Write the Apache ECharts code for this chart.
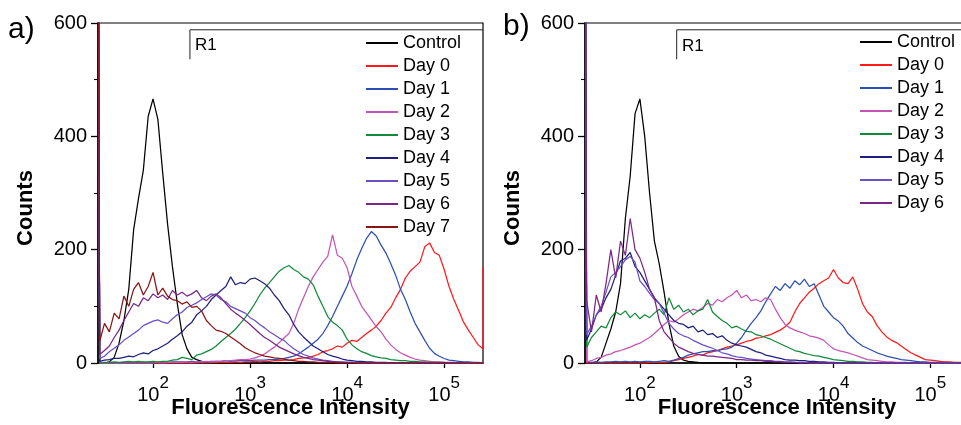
<!DOCTYPE html>
<html><head><meta charset="utf-8">
<script src="https://cdn.jsdelivr.net/npm/echarts@6/dist/echarts.min.js"></script>
<style>html,body{margin:0;padding:0;background:#fff}#c{width:961px;height:425px}</style>
</head><body><div id="c"></div>
<script>
// ---------- data (log10 of fluorescence channel -> counts) ----------
const X_MIN = 1.433;   // left edge of the log axis (~27)
const X_MAX = 5.40;    // right edge of the log axis (~2.5e5)
const channelExp = [
1.45,1.50,1.55,1.60,1.65,1.70,1.75,1.80,1.85,1.90,
1.95,2.00,2.05,2.10,2.15,2.20,2.25,2.30,2.35,2.40,
2.45,2.50,2.55,2.60,2.65,2.70,2.75,2.80,2.85,2.90,
2.95,3.00,3.05,3.10,3.15,3.20,3.25,3.30,3.35,3.40,
3.45,3.50,3.55,3.60,3.65,3.70,3.75,3.80,3.85,3.90,
3.95,4.00,4.05,4.10,4.15,4.20,4.25,4.30,4.35,4.40,
4.45,4.50,4.55,4.60,4.65,4.70,4.75,4.80,4.85,4.90,
4.95,5.00,5.05,5.10,5.15,5.20,5.25,5.30,5.35,5.40];
const xTickExp = [2, 3, 4, 5];
const yTicks = {min: 0, max: 600, step: 200};
const seriesNames = ['Control','Day 0','Day 1','Day 2','Day 3','Day 4','Day 5','Day 6','Day 7'];
const seriesColors = ['#000000','#ff1a1a','#2d4fb5','#c455b5','#138a3a','#1f1f80','#6b4fc6','#7a2888','#8b1414'];
const gateR1 = {startIntensity: 240, level: 588, tickBottom: 536};

// panel a
const aControl = [
0,0,2,10,35,75,130,235,290,340,
435,466,430,335,245,170,105,50,25,10,
6,3,2,1,1,0,0,0,0,0,
0,0,0,0,0,0,0,0,0,0,
0,0,0,0,0,0,0,0,0,0,
0,0,0,0,0,0,0,0,0,0,
0,0,0,0,0,0,0,0,0,0,
0,0,0,0,0,0,0,0,0,0];
const aDay0 = [
0,0,0,0,0,0,0,0,0,0,
0,0,0,0,0,0,0,0,0,0,
0,1,0,1,1,1,1,1,2,1,
2,2,3,2,3,3,4,4,5,5,
6,8,9,10,12,15,20,22,25,30,
28,35,40,38,45,52,58,65,75,88,
98,115,130,150,162,170,178,205,212,195,
190,165,135,112,92,72,58,45,32,25];
const aDay1 = [
0,0,0,0,0,0,1,0,1,1,
1,1,1,2,1,2,2,2,2,3,
2,3,2,3,3,3,4,3,4,4,
4,4,5,5,5,6,6,7,8,10,
12,16,22,28,35,42,52,66,82,100,
118,136,158,182,202,220,232,224,208,194,
175,155,130,112,90,70,55,40,26,17,
12,8,5,4,3,2,2,1,1,0];
const aDay2 = [
0,0,0,0,0,0,0,0,0,0,
0,0,1,0,1,1,1,1,2,1,
2,2,3,2,3,3,4,4,5,6,
6,7,9,12,16,22,28,36,44,52,
70,95,115,135,152,165,178,188,226,190,
185,168,135,118,100,88,76,64,55,42,
32,24,18,14,10,7,5,4,3,2,
2,1,1,1,0,0,0,0,0,0];
const aDay3 = [
0,1,1,2,1,2,3,2,3,2,
2,3,2,3,3,5,6,10,8,6,
14,16,20,24,30,38,45,52,60,70,
80,92,105,120,132,142,152,162,168,172,
165,160,152,148,138,118,100,82,72,66,
58,42,32,25,20,17,13,11,9,8,
6,5,4,4,3,3,2,2,1,1,
1,1,0,0,0,0,0,0,0,0];
const aDay4 = [
3,5,6,8,8,10,12,11,15,18,
16,22,25,30,35,42,48,55,65,72,
85,92,100,112,120,128,135,152,138,142,
140,148,150,145,140,132,120,110,96,85,
68,55,46,38,30,25,20,15,12,10,
7,5,4,3,3,2,2,1,1,1,
0,0,0,0,0,0,0,0,0,0,
0,0,0,0,0,0,0,0,0,0];
const aDay5 = [
8,12,20,26,32,40,46,52,58,66,
70,74,76,72,70,78,85,90,98,102,
106,112,117,122,120,112,108,100,96,92,
88,80,75,68,62,55,50,44,40,32,
25,20,15,12,9,7,5,4,3,2,
2,1,1,1,0,0,0,0,0,0,
0,0,0,0,0,0,0,0,0,0,
0,0,0,0,0,0,0,0,0,0];
const aDay6 = [
15,22,30,45,58,75,90,105,100,115,
110,122,115,120,112,128,120,125,118,122,
128,115,110,118,122,115,105,95,88,82,
75,68,60,52,45,40,34,28,24,20,
16,13,10,8,6,5,4,3,2,2,
1,1,1,0,0,0,0,0,0,0,
0,0,0,0,0,0,0,0,0,0,
0,0,0,0,0,0,0,0,0,0];
const aDay7 = [
38,70,55,88,78,118,100,130,142,120,
135,160,120,132,118,112,110,104,108,98,
100,92,75,66,58,56,52,46,40,34,
27,22,18,15,12,11,9,8,7,5,
4,3,3,2,2,1,1,1,1,0,
0,0,0,0,0,0,0,0,0,0,
0,0,0,0,0,0,0,0,0,0,
0,0,0,0,0,0,0,0,0,0];
const aFirstBin = [1000,1000,1000,1000,1000,1000,1000,1000,1000];
const aLastBin  = [0,170,0,0,0,0,0,0,0];

// panel b
const bControl = [
0,0,2,10,35,60,90,140,255,330,
440,466,400,300,215,175,125,70,30,12,
5,3,2,1,0,0,0,0,0,0,
0,0,0,0,0,0,0,0,0,0,
0,0,0,0,0,0,0,0,0,0,
0,0,0,0,0,0,0,0,0,0,
0,0,0,0,0,0,0,0,0,0,
0,0,0,0,0,0,0,0,0,0];
const bDay0 = [
0,0,0,0,0,0,0,0,0,0,
0,0,0,1,1,1,1,2,4,6,
8,10,12,15,14,18,20,22,25,28,
30,32,35,38,40,44,45,48,50,54,
58,64,72,90,105,115,125,132,140,145,
150,165,150,142,140,152,130,105,90,82,
66,55,46,40,36,30,24,18,14,10,
6,5,4,3,2,2,1,1,1,0];
const bDay1 = [
2,1,2,1,2,2,3,2,3,2,
3,2,3,3,2,3,4,3,5,8,
10,14,16,18,20,20,22,22,24,25,
28,35,45,58,70,80,92,108,122,135,
128,140,132,145,138,148,135,140,120,100,
90,80,74,65,52,44,36,30,26,22,
18,15,12,10,8,6,5,4,3,2,
2,1,1,1,0,0,0,0,0,0];
const bDay2 = [
2,4,8,10,14,16,20,22,25,28,
32,35,40,45,52,60,68,75,72,78,
85,90,95,92,98,105,102,112,108,115,
120,128,115,120,110,112,108,115,112,95,
80,68,62,58,55,52,48,46,44,40,
32,25,22,20,18,15,12,9,6,5,
4,3,2,2,1,1,1,0,0,0,
0,0,0,0,0,0,0,0,0,0];
const bDay3 = [
28,45,55,65,62,80,90,85,92,80,
88,78,85,80,88,95,85,115,95,102,
90,95,85,92,95,112,90,82,75,70,
62,65,60,56,55,50,48,45,42,38,
34,30,26,22,20,17,15,13,12,10,
8,6,5,4,3,3,2,2,1,1,
0,0,0,0,0,0,0,0,0,0,
0,0,0,0,0,0,0,0,0,0];
const bDay4 = [
40,60,85,95,115,130,155,180,185,195,
170,160,145,130,115,105,95,85,75,70,
68,62,65,55,58,50,52,45,48,40,
35,32,30,28,24,20,18,14,12,10,
8,6,5,5,4,4,3,3,2,2,
1,1,0,0,0,0,0,0,0,0,
0,0,0,0,0,0,0,0,0,0,
0,0,0,0,0,0,0,0,0,0];
const bDay5 = [
50,65,85,100,125,152,160,170,182,188,
178,145,135,123,112,105,88,70,60,52,
48,45,40,36,32,29,26,22,18,16,
13,11,10,8,7,6,5,4,4,3,
3,2,2,1,1,1,0,0,0,0,
0,0,0,0,0,0,0,0,0,0,
0,0,0,0,0,0,0,0,0,0,
0,0,0,0,0,0,0,0,0,0];
const bDay6 = [
110,55,120,90,140,200,150,215,190,255,
200,185,160,130,115,75,55,45,35,28,
24,20,17,15,14,12,12,11,10,9,
8,6,6,5,5,4,4,3,3,2,
2,1,1,1,0,0,0,0,0,0,
0,0,0,0,0,0,0,0,0,0,
0,0,0,0,0,0,0,0,0,0,
0,0,0,0,0,0,0,0,0,0];
const bFirstBin = [1000,1000,1000,1000,1000,1000,1000,1000];
const bLastBin  = [0,0,0,0,0,0,0,0];

const panelA = [aControl,aDay0,aDay1,aDay2,aDay3,aDay4,aDay5,aDay6,aDay7];
const panelB = [bControl,bDay0,bDay1,bDay2,bDay3,bDay4,bDay5,bDay6];

// ---------- chart ----------
const FONT = '"Liberation Sans", Arial, Helvetica, sans-serif';
function buildData(vals, first, last) {
  const d = [[X_MIN, first]];
  for (let i = 0; i < channelExp.length; i++) d.push([channelExp[i], vals[i]]);
  if (last > 0) d.push([X_MAX, last]);
  return d;
}
function xAxisCfg(idx) {
  return {
    type: 'value', gridIndex: idx, min: X_MIN, max: X_MAX,
    splitLine: {show: false},
    axisLine: {show: true, onZero: false, lineStyle: {color: '#000', width: 1.5}},
    axisTick: {show: true, inside: false, length: 5, customValues: xTickExp, lineStyle: {color: '#000', width: 1.3}},
    axisLabel: {
      show: true, customValues: xTickExp, margin: 12,
      formatter: v => '{b|10}{s|' + Math.round(v) + '}',
      rich: {
        b: {fontSize: 20, lineHeight: 30, verticalAlign: 'bottom', fontFamily: FONT, color: '#000'},
        s: {fontSize: 17, lineHeight: 30, verticalAlign: 'top', fontFamily: FONT, color: '#000'}
      }
    },
    name: 'Fluorescence Intensity', nameLocation: 'middle', nameGap: 34, nameMoveOverlap: false,
    nameTextStyle: {fontSize: 22, fontWeight: 'bold', fontFamily: FONT, color: '#000', verticalAlign: 'top'}
  };
}
function yAxisCfg(idx) {
  return {
    type: 'value', gridIndex: idx, min: yTicks.min, max: yTicks.max, interval: yTicks.step,
    splitLine: {show: false},
    axisLine: {show: true, lineStyle: {color: '#000', width: 1.5}},
    axisTick: {show: true, inside: false, length: 7, lineStyle: {color: '#000', width: 1.3}},
    minorTick: {show: true, splitNumber: 2, length: 4, lineStyle: {color: '#000', width: 1.1}},
    axisLabel: {fontSize: 20, margin: 11, color: '#000', fontFamily: FONT}
  };
}
const series = [];
panelA.forEach((vals, i) => series.push({
  name: seriesNames[i], type: 'line', xAxisIndex: 0, yAxisIndex: 0,
  data: buildData(vals, aFirstBin[i], aLastBin[i]),
  symbol: 'none', lineStyle: {width: 1.25, color: seriesColors[i]}, itemStyle: {color: seriesColors[i]},
  clip: true, silent: true
}));
panelB.forEach((vals, i) => series.push({
  name: seriesNames[i], type: 'line', xAxisIndex: 1, yAxisIndex: 1,
  data: buildData(vals, bFirstBin[i], bLastBin[i]),
  symbol: 'none', lineStyle: {width: 1.25, color: seriesColors[i]}, itemStyle: {color: seriesColors[i]},
  clip: true, silent: true
}));
const gateExp = Math.log10(gateR1.startIntensity);
[0, 1].forEach(k => series.push({
  name: 'R1', type: 'line', xAxisIndex: k, yAxisIndex: k, symbol: 'none', silent: true, z: 1,
  lineStyle: {width: 1, color: '#222'},
  data: [[gateExp, gateR1.tickBottom], [gateExp, gateR1.level], [X_MAX, gateR1.level]]
}));

const legendBase = {
  orient: 'vertical', icon: 'rect', itemWidth: 32, itemHeight: 2, itemGap: 5, selectedMode: false,
  textStyle: {fontSize: 18, fontFamily: FONT, color: '#000'}, padding: 0
};
const option = {
  animation: false,
  backgroundColor: '#fff',
  grid: [
    {left: 98, top: 23, width: 385, height: 340, outerBoundsMode: 'none', containLabel: false, show: true, borderColor: '#000', borderWidth: 1.2, backgroundColor: 'transparent'},
    {left: 585, top: 23, width: 384, height: 340, outerBoundsMode: 'none', containLabel: false, show: true, borderColor: '#000', borderWidth: 1.2, backgroundColor: 'transparent'}
  ],
  xAxis: [xAxisCfg(0), xAxisCfg(1)],
  yAxis: [yAxisCfg(0), yAxisCfg(1)],
  legend: [
    Object.assign({}, legendBase, {left: 366, top: 34, data: seriesNames.slice(0, 9)}),
    Object.assign({}, legendBase, {left: 860, top: 33, data: seriesNames.slice(0, 8)})
  ],
  graphic: [
    {type: 'text', x: 8, y: 30, style: {text: 'a)', font: '30px ' + FONT, fill: '#000', textVerticalAlign: 'middle'}},
    {type: 'text', x: 503, y: 27, style: {text: 'b)', font: '30px ' + FONT, fill: '#000', textVerticalAlign: 'middle'}},
    {type: 'text', x: 26, y: 208, rotation: Math.PI / 2, style: {text: 'Counts', font: 'bold 22px ' + FONT, fill: '#000', textAlign: 'center', textVerticalAlign: 'middle'}},
    {type: 'text', x: 513, y: 208, rotation: Math.PI / 2, style: {text: 'Counts', font: 'bold 22px ' + FONT, fill: '#000', textAlign: 'center', textVerticalAlign: 'middle'}},
    {type: 'text', x: 195, y: 45, style: {text: 'R1', font: '17px ' + FONT, fill: '#000', textVerticalAlign: 'middle'}},
    {type: 'text', x: 682, y: 46, style: {text: 'R1', font: '17px ' + FONT, fill: '#000', textVerticalAlign: 'middle'}}
  ],
  series: series
};
const chart = echarts.init(document.getElementById('c'), null, {renderer: 'canvas'});
chart.setOption(option);
</script>
</body></html>
